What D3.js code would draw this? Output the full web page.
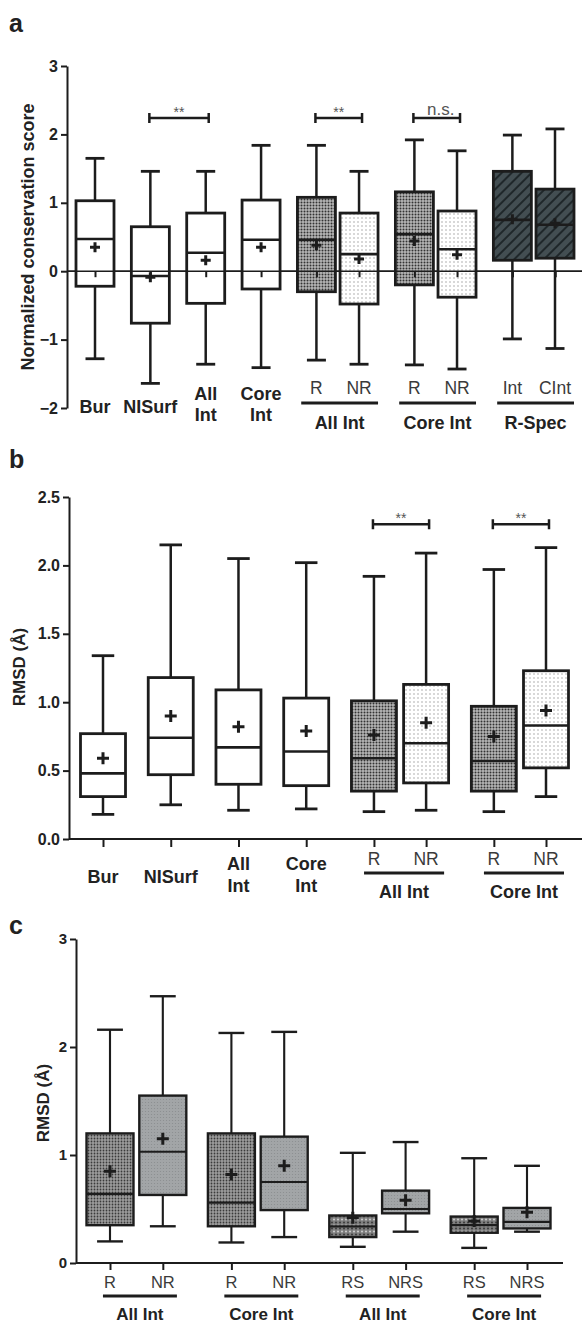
<!DOCTYPE html>
<html>
<head>
	<meta charset="utf-8">
	<title>Conservation and RMSD box plots</title>
	<script src="https://cdn.jsdelivr.net/npm/d3@7"></script>
<style>
body { margin: 0; background: #fff; }
text { font-family: "Liberation Sans", Arial, sans-serif; fill: #222; }
</style>
</head>
<body>
<svg width="582" height="1323"></svg>
<script>

// ---- panel a : normalized conservation score ----
var catsA   = ["Bur", "NISurf", "All Int", "Core Int", "R", "NR", "R", "NR", "Int", "CInt"];
var groupsA = ["", "", "", "", "All Int", "All Int", "Core Int", "Core Int", "R-Spec", "R-Spec"];
var loA   = [-1.28, -1.64, -1.36, -1.41, -1.30, -1.36, -1.37, -1.43, -0.99, -1.13];
var q1A   = [-0.22, -0.76, -0.47, -0.26, -0.30, -0.48, -0.20, -0.38, 0.16, 0.19];
var medA  = [0.47, -0.07, 0.27, 0.46, 0.46, 0.25, 0.54, 0.32, 0.75, 0.68];
var q3A   = [1.03, 0.65, 0.85, 1.04, 1.08, 0.85, 1.16, 0.88, 1.46, 1.20];
var hiA   = [1.65, 1.46, 1.46, 1.84, 1.84, 1.46, 1.92, 1.76, 1.99, 2.08];
var meanA = [0.35, -0.09, 0.16, 0.35, 0.38, 0.18, 0.44, 0.24, 0.76, 0.70];
var sigA  = [[1, 2, "**"], [4, 5, "**"], [6, 7, "n.s."]];
var ticksA = [-2, -1, 0, 1, 2, 3];

// ---- panel b : RMSD ----
var catsB   = ["Bur", "NISurf", "All Int", "Core Int", "R", "NR", "R", "NR"];
var groupsB = ["", "", "", "", "All Int", "All Int", "Core Int", "Core Int"];
var loB   = [0.18, 0.25, 0.21, 0.22, 0.20, 0.21, 0.20, 0.31];
var q1B   = [0.31, 0.47, 0.40, 0.39, 0.35, 0.41, 0.35, 0.52];
var medB  = [0.48, 0.74, 0.67, 0.64, 0.59, 0.70, 0.57, 0.83];
var q3B   = [0.77, 1.18, 1.09, 1.03, 1.01, 1.13, 0.97, 1.23];
var hiB   = [1.34, 2.15, 2.05, 2.02, 1.92, 2.09, 1.97, 2.13];
var meanB = [0.59, 0.90, 0.82, 0.79, 0.76, 0.85, 0.75, 0.94];
var sigB  = [[4, 5, "**"], [6, 7, "**"]];
var ticksB = [0, 0.5, 1, 1.5, 2, 2.5];

// ---- panel c : RMSD by subset ----
var catsC   = ["R", "NR", "R", "NR", "RS", "NRS", "RS", "NRS"];
var groupsC = ["All Int", "All Int", "Core Int", "Core Int", "All Int", "All Int", "Core Int", "Core Int"];
var loC   = [0.20, 0.34, 0.19, 0.24, 0.15, 0.29, 0.14, 0.29];
var q1C   = [0.35, 0.63, 0.34, 0.49, 0.24, 0.46, 0.28, 0.32];
var medC  = [0.64, 1.03, 0.56, 0.75, 0.34, 0.50, 0.35, 0.38];
var q3C   = [1.20, 1.55, 1.20, 1.17, 0.44, 0.67, 0.43, 0.51];
var hiC   = [2.16, 2.47, 2.13, 2.14, 1.02, 1.12, 0.97, 0.90];
var meanC = [0.85, 1.15, 0.82, 0.90, 0.42, 0.58, 0.39, 0.47];
var ticksC = [0, 1, 2, 3];

var svg = d3.select("svg");
var ink = "#1c1c1c";
var defs = svg.append("defs");

function dotPattern(id, size, bg, dot, r) {
  var p = defs.append("pattern").attr("id", id)
    .attr("patternUnits", "userSpaceOnUse")
    .attr("width", size).attr("height", size);
  p.append("rect").attr("width", size).attr("height", size).attr("fill", bg);
  p.append("circle").attr("cx", size / 2).attr("cy", size / 2).attr("r", r).attr("fill", dot);
}
dotPattern("dense", 3, "#b6b6b6", "#333", 1.0);
dotPattern("light", 4, "#ffffff", "#a8a8a8", 0.8);
dotPattern("denseC", 3, "#9c9c9c", "#3a3a3a", 0.9);
dotPattern("greyC", 3, "#a2a5a7", "#8a8d8f", 0.6);

var hatch = defs.append("pattern").attr("id", "hatch")
  .attr("patternUnits", "userSpaceOnUse").attr("width", 7).attr("height", 7)
  .attr("patternTransform", "rotate(45)");
hatch.append("rect").attr("width", 7).attr("height", 7).attr("fill", "#434e52");
hatch.append("line").attr("x1", 1).attr("y1", 0).attr("x2", 1).attr("y2", 7)
  .attr("stroke", "#1b2225").attr("stroke-width", 1.8);

// striped dots for the RS boxes
var rs = defs.append("pattern").attr("id", "stripeC")
  .attr("patternUnits", "userSpaceOnUse").attr("width", 4).attr("height", 6);
rs.append("rect").attr("width", 4).attr("height", 6).attr("fill", "#7e7e7e");
rs.append("circle").attr("cx", 2).attr("cy", 1.5).attr("r", 1).attr("fill", "#d0d0d0");
rs.append("circle").attr("cx", 0).attr("cy", 4.5).attr("r", 1).attr("fill", "#3a3a3a");
rs.append("circle").attr("cx", 4).attr("cy", 4.5).attr("r", 1).attr("fill", "#3a3a3a");

// centres in "slot" units: paired boxes sit closer than single ones
function slots(groups) {
  var p = [0];
  for (var i = 1; i < groups.length; i++) {
    p.push(p[i - 1] + (groups[i] && groups[i] === groups[i - 1] ? 0.77 : 1));
  }
  return p;
}

function drawPanel(cfg) {
  var g = svg.append("g");
  var pos = slots(cfg.groups);
  var x = d3.scaleLinear().domain([0, pos[pos.length - 1]]).range(cfg.xRange);
  var y = d3.scaleLinear().domain(cfg.domain).range(cfg.yRange);
  var bw = cfg.bw, sw = cfg.sw;
  var rows = cfg.cats.map(function(c, i) {
    return { cat: c, group: cfg.groups[i], x: x(pos[i]), lo: cfg.lo[i], q1: cfg.q1[i],
             med: cfg.med[i], q3: cfg.q3[i], hi: cfg.hi[i], mean: cfg.mean[i] };
  });

  // panel letter
  g.append("text").attr("x", 9).attr("y", cfg.letterY).text(cfg.letter)
    .style("font-size", "25px").style("font-weight", "bold");

  // y axis
  var yAxis = g.append("g").attr("transform", "translate(" + cfg.axisX + ",0)")
    .call(d3.axisLeft(y).tickValues(cfg.ticks).tickSize(6).tickSizeOuter(0).tickPadding(3)
      .tickFormat(cfg.tickFormat));
  yAxis.select(".domain").attr("stroke", ink).attr("stroke-width", 2);
  yAxis.selectAll(".tick line").attr("stroke", ink).attr("stroke-width", 2);
  yAxis.selectAll(".tick text").attr("fill", "#222")
    .style("font-size", cfg.tickFont).style("font-weight", "bold")
    .style("font-family", "'Liberation Sans', Arial, sans-serif");

  g.append("text")
    .attr("transform", "translate(" + cfg.ylabX + "," + cfg.ylabY + ") rotate(-90)")
    .attr("text-anchor", "middle").attr("dy", "0.35em")
    .style("font-size", cfg.ylabFont).style("font-weight", "bold")
    .text(cfg.ylabel);

  // x baseline at 0 with ticks under each box
  var y0 = y(0);
  function baseline() {
    g.append("line").attr("x1", cfg.axisX).attr("x2", cfg.xEnd)
      .attr("y1", y0).attr("y2", y0).attr("stroke", ink).attr("stroke-width", cfg.zeroW);
    g.append("g").attr("transform", "translate(0," + y0 + ")")
      .call(d3.axisBottom(x).tickValues(pos).tickSize(cfg.xTick).tickFormat(""))
      .call(function(s) {
        s.select(".domain").remove();
        s.selectAll(".tick line").attr("stroke", ink).attr("stroke-width", 2);
      });
  }
  baseline();

  // boxes
  var box = g.selectAll(".box").data(rows).enter().append("g").attr("class", "box");
  box.append("line")
    .attr("x1", function(d) { return d.x; }).attr("x2", function(d) { return d.x; })
    .attr("y1", function(d) { return y(d.hi); }).attr("y2", function(d) { return y(d.lo); })
    .attr("stroke", ink).attr("stroke-width", 2.5 * sw);
  ["hi", "lo"].forEach(function(k) {
    box.append("line")
      .attr("x1", function(d) { return d.x - bw * cfg.cap / 2; })
      .attr("x2", function(d) { return d.x + bw * cfg.cap / 2; })
      .attr("y1", function(d) { return y(d[k]); }).attr("y2", function(d) { return y(d[k]); })
      .attr("stroke", ink).attr("stroke-width", 2.8 * sw);
  });
  box.append("rect")
    .attr("x", function(d) { return d.x - bw / 2; })
    .attr("width", bw)
    .attr("y", function(d) { return y(d.q3); })
    .attr("height", function(d) { return y(d.q1) - y(d.q3); })
    .attr("fill", function(d) { return cfg.fill(d); })
    .attr("stroke", ink).attr("stroke-width", 2.8 * sw);
  // in panel a the zero line shows through the boxes
  if (cfg.zeroOver) baseline();
  box.append("line")
    .attr("x1", function(d) { return d.x - bw / 2; }).attr("x2", function(d) { return d.x + bw / 2; })
    .attr("y1", function(d) { return y(d.med); }).attr("y2", function(d) { return y(d.med); })
    .attr("stroke", ink).attr("stroke-width", 2.6 * sw);
  box.append("path")
    .attr("d", function(d) {
      var m = y(d.mean), a = cfg.plus;
      return "M" + (d.x - a) + "," + m + "H" + (d.x + a) + "M" + d.x + "," + (m - a) + "V" + (m + a);
    })
    .attr("stroke", ink).attr("stroke-width", 3).attr("fill", "none");

  // category labels
  rows.forEach(function(d) {
    var lines = d.cat.split(" ");
    if (d.group) {
      g.append("text").attr("x", d.x).attr("y", cfg.subY).attr("text-anchor", "middle")
        .style("font-size", cfg.subFont).style("fill", "#3a3a3a").text(d.cat);
    } else if (lines.length === 1) {
      g.append("text").attr("x", d.x).attr("y", cfg.singleY).attr("text-anchor", "middle")
        .style("font-size", cfg.labFont).style("font-weight", "bold").text(d.cat);
    } else {
      lines.forEach(function(l, k) {
        g.append("text").attr("x", d.x).attr("y", cfg.doubleY[k]).attr("text-anchor", "middle")
          .style("font-size", cfg.labFont).style("font-weight", "bold").text(l);
      });
    }
  });

  // group underlines + names
  var runs = [];
  rows.forEach(function(d, i) {
    if (!d.group) return;
    var last = runs[runs.length - 1];
    if (last && last.name === d.group && last.end === i - 1) { last.end = i; }
    else runs.push({ name: d.group, start: i, end: i });
  });
  runs.forEach(function(r) {
    var x1 = rows[r.start].x - bw * cfg.ulL, x2 = rows[r.end].x + bw * cfg.ulR;
    g.append("line").attr("x1", x1).attr("x2", x2).attr("y1", cfg.ulY).attr("y2", cfg.ulY)
      .attr("stroke", ink).attr("stroke-width", 2.8);
    g.append("text").attr("x", (x1 + x2) / 2).attr("y", cfg.grpY).attr("text-anchor", "middle")
      .style("font-size", cfg.labFont).style("font-weight", "bold").text(r.name);
  });

  // significance brackets
  (cfg.sig || []).forEach(function(s) {
    var xa = rows[s[0]].x - 1, xb = rows[s[1]].x + 3, yb = y(cfg.sigAt);
    g.append("path")
      .attr("d", "M" + xa + "," + yb + "H" + xb + "M" + xa + "," + (yb - 5) + "V" + (yb + 5)
        + "M" + xb + "," + (yb - 5) + "V" + (yb + 5))
      .attr("stroke", ink).attr("stroke-width", 2.5).attr("fill", "none");
    var ns = s[2] === "n.s.";
    g.append("text").attr("x", (xa + xb) / 2 + (ns ? 4 : 0)).attr("y", yb - (ns ? 3 : 1))
      .attr("text-anchor", "middle")
      .style("font-size", ns ? "17px" : "14px").style("fill", "#555")
      .text(s[2]);
  });
}

drawPanel({
  letter: "a", letterY: 32,
  cats: catsA, groups: groupsA, lo: loA, q1: q1A, med: medA, q3: q3A, hi: hiA, mean: meanA,
  sig: sigA, sigAt: 2.24,
  domain: [-2, 3], yRange: [408, 66], ticks: ticksA, tickFormat: d3.format("d"), tickFont: "16px",
  axisX: 67, xEnd: 582, xRange: [95, 555], bw: 38, sw: 1, cap: 0.5, plus: 5, xTick: 6, zeroW: 1.6, zeroOver: true,
  ylabel: "Normalized conservation score", ylabX: 28, ylabY: 237, ylabFont: "18px",
  labFont: "18px", subFont: "17.5px", singleY: 413, doubleY: [400, 421], subY: 394,
  ulY: 403, ulL: 0.4, ulR: 0.5, grpY: 429,
  fill: function(d) {
    if (d.cat === "R") return "url(#dense)";
    if (d.cat === "NR") return "url(#light)";
    if (d.group === "R-Spec") return "url(#hatch)";
    return "#fff";
  }
});

drawPanel({
  letter: "b", letterY: 468,
  cats: catsB, groups: groupsB, lo: loB, q1: q1B, med: medB, q3: q3B, hi: hiB, mean: meanB,
  sig: sigB, sigAt: 2.30,
  domain: [0, 2.5], yRange: [839, 497], ticks: ticksB, tickFormat: d3.format(".1f"), tickFont: "16px",
  axisX: 69, xEnd: 582, xRange: [103, 546], bw: 45, sw: 1, cap: 0.5, plus: 6, xTick: 8, zeroW: 2,
  ylabel: "RMSD (Å)", ylabX: 19, ylabY: 667, ylabFont: "17px",
  labFont: "18px", subFont: "17.5px", singleY: 883, doubleY: [870, 892], subY: 865,
  ulY: 873, ulL: 0.22, ulR: 0.4, grpY: 898,
  fill: function(d) {
    if (d.cat === "R") return "url(#dense)";
    if (d.cat === "NR") return "url(#light)";
    return "#fff";
  }
});

drawPanel({
  letter: "c", letterY: 934,
  cats: catsC, groups: groupsC, lo: loC, q1: q1C, med: medC, q3: q3C, hi: hiC, mean: meanC,
  domain: [0, 3], yRange: [1263, 939], ticks: ticksC, tickFormat: d3.format("d"), tickFont: "15px",
  axisX: 76, xEnd: 563, xRange: [110, 527], bw: 47, sw: 0.85, cap: 0.55, plus: 6, xTick: 7, zeroW: 2,
  ylabel: "RMSD (Å)", ylabX: 43, ylabY: 1103, ylabFont: "17px",
  labFont: "17px", subFont: "16.5px", singleY: 1288, doubleY: [1275, 1297], subY: 1288,
  ulY: 1296, ulL: 0.15, ulR: 0.3, grpY: 1320,
  fill: function(d) {
    if (d.cat === "R") return "url(#denseC)";
    if (d.cat === "RS") return "url(#stripeC)";
    return "url(#greyC)";
  }
});

</script>
</body>
</html>
